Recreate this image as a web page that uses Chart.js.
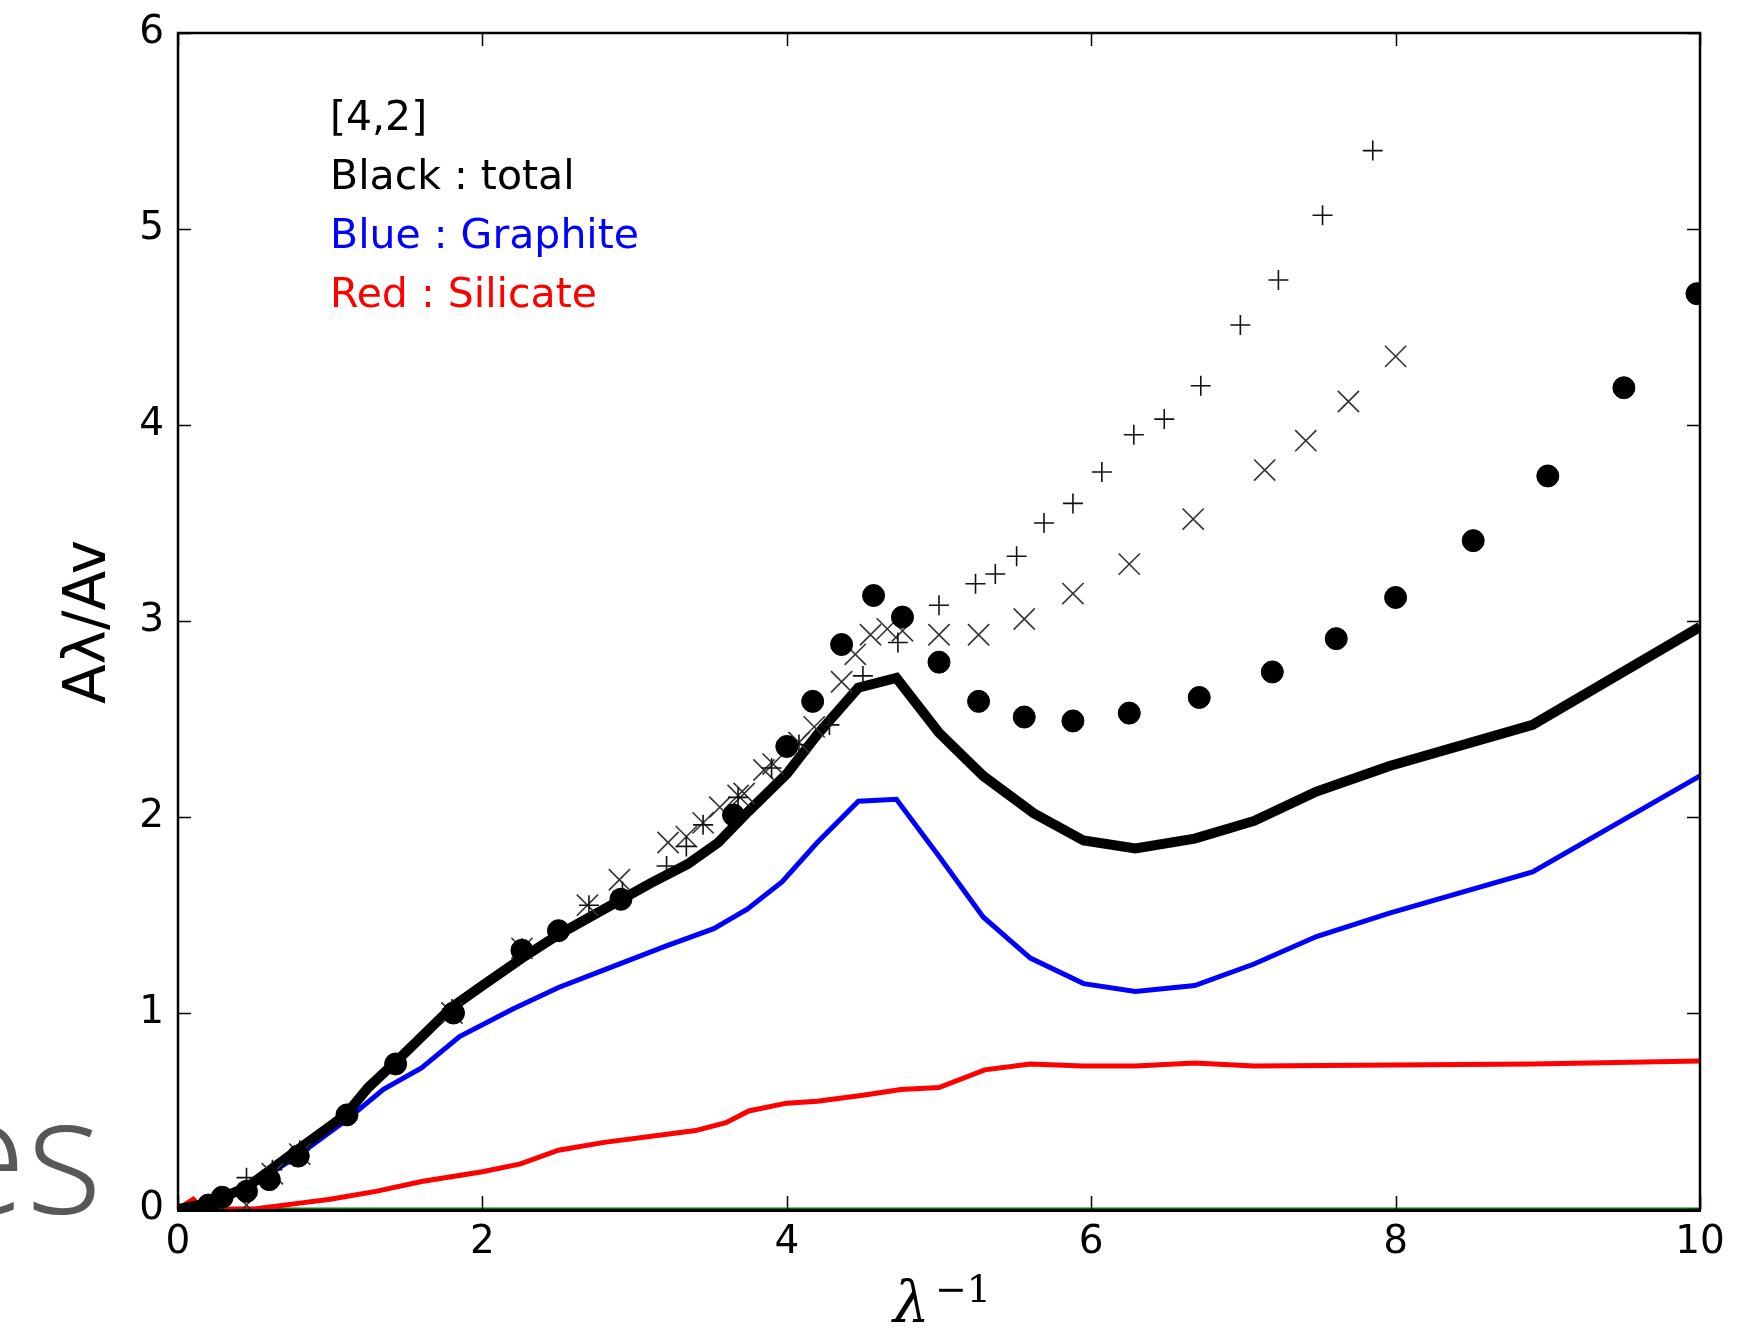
<!DOCTYPE html>
<html>
<head>
<meta charset="utf-8">
<title>Extinction curve [4,2]</title>
<script src="https://cdn.jsdelivr.net/npm/chart.js@4.4.1/dist/chart.umd.min.js"></script>
<style>
  html, body { margin: 0; padding: 0; background: #ffffff; }
  #wrap { position: relative; width: 1742px; height: 1329px; }
  canvas { display: block; }
</style>
</head>
<body>
<div id="wrap"><canvas id="extinctionChart" width="1742" height="1329"></canvas></div>
<script>
/**
 * ================================================================
 * DATA
 * ================================================================
 */

// Ticks
const xTicks = [0, 2, 4, 6, 8, 10];
const yTicks = [0, 1, 2, 3, 4, 5, 6];

// Model: total (black)
const totalX = [0, 0.2, 0.45, 0.8, 1.1, 1.25, 1.47, 1.8, 2.0, 2.26, 2.5, 2.8, 3.1, 3.35, 3.55, 3.75, 4.0, 4.2, 4.47, 4.72, 5.0, 5.29, 5.62, 5.95, 6.29, 6.68, 7.07, 7.48, 7.96, 8.9, 10];
const totalY = [0, 0.03, 0.11, 0.31, 0.48, 0.62, 0.78, 1.03, 1.14, 1.28, 1.4, 1.53, 1.66, 1.76, 1.87, 2.03, 2.22, 2.42, 2.66, 2.71, 2.43, 2.21, 2.02, 1.88, 1.84, 1.89, 1.98, 2.13, 2.26, 2.47, 2.97];

// Model: graphite (blue)
const graphiteX = [0, 0.2, 0.45, 0.8, 1.1, 1.35, 1.6, 1.85, 2.2, 2.5, 2.8, 3.2, 3.52, 3.74, 3.97, 4.2, 4.47, 4.72, 5.0, 5.29, 5.6, 5.95, 6.29, 6.68, 7.07, 7.48, 7.96, 8.9, 10];
const graphiteY = [0, 0.03, 0.1, 0.28, 0.45, 0.61, 0.72, 0.88, 1.02, 1.13, 1.22, 1.34, 1.43, 1.53, 1.67, 1.87, 2.08, 2.09, 1.8, 1.49, 1.28, 1.15, 1.11, 1.14, 1.25, 1.39, 1.51, 1.72, 2.21];

// Model: silicate (red)
const silicateX = [0, 0.1, 0.16, 0.5, 0.8, 1.0, 1.3, 1.6, 2.0, 2.25, 2.5, 2.8, 3.2, 3.4, 3.6, 3.75, 4.0, 4.2, 4.5, 4.75, 5.0, 5.3, 5.6, 5.95, 6.29, 6.68, 7.07, 8.9, 10];
const silicateY = [0, 0.05, 0, 0, 0.03, 0.05, 0.09, 0.14, 0.19, 0.23, 0.3, 0.34, 0.38, 0.4, 0.44, 0.5, 0.54, 0.55, 0.58, 0.61, 0.62, 0.71, 0.74, 0.73, 0.73, 0.745, 0.73, 0.74, 0.755];

// Zero line (green)
const zeroX = [0, 10];
const zeroY = [0, 0];

// Observed curve: filled circles
const dotsX = [0.2, 0.29, 0.45, 0.6, 0.79, 1.11, 1.43, 1.81, 2.26, 2.5, 2.91, 3.65, 4.0, 4.17, 4.36, 4.57, 4.76, 5.0, 5.26, 5.56, 5.88, 6.25, 6.71, 7.19, 7.61, 8.0, 8.51, 9.0, 9.5, 9.98];
const dotsY = [0.02, 0.06, 0.09, 0.15, 0.27, 0.48, 0.74, 1.0, 1.32, 1.42, 1.58, 2.01, 2.36, 2.59, 2.88, 3.13, 3.02, 2.79, 2.59, 2.51, 2.49, 2.53, 2.61, 2.74, 2.91, 3.12, 3.41, 3.74, 4.19, 4.67];

// Observed curve: plus markers
const plusX = [0.45, 0.62, 0.8, 1.8, 2.26, 2.7, 2.92, 3.21, 3.34, 3.45, 3.68, 3.9, 4.08, 4.28, 4.5, 4.73, 5.0, 5.24, 5.37, 5.51, 5.69, 5.88, 6.07, 6.28, 6.48, 6.72, 6.98, 7.23, 7.52, 7.85];
const plusY = [0.16, 0.2, 0.3, 1.02, 1.33, 1.55, 1.62, 1.75, 1.85, 1.96, 2.1, 2.25, 2.37, 2.47, 2.72, 2.89, 3.08, 3.19, 3.24, 3.33, 3.5, 3.6, 3.76, 3.95, 4.03, 4.2, 4.51, 4.74, 5.07, 5.4];

// Observed curve: x markers
const crossX = [0.45, 0.62, 0.8, 1.8, 2.26, 2.69, 2.9, 3.22, 3.34, 3.45, 3.56, 3.68, 3.72, 3.85, 3.91, 4.08, 4.18, 4.36, 4.45, 4.55, 4.66, 4.76, 5.0, 5.26, 5.56, 5.88, 6.25, 6.67, 7.14, 7.41, 7.69, 8.0];
const crossY = [0.02, 0.18, 0.28, 1.0, 1.33, 1.55, 1.68, 1.87, 1.9, 1.97, 2.05, 2.11, 2.12, 2.24, 2.27, 2.38, 2.46, 2.69, 2.83, 2.93, 2.96, 2.95, 2.93, 2.93, 3.01, 3.14, 3.29, 3.52, 3.77, 3.92, 4.12, 4.35];

// Legend-like notes
const noteLines = ['[4,2]', 'Black : total', 'Blue : Graphite', 'Red : Silicate'];
const noteColors = ['#000000', '#000000', '#0000ff', '#ff0000'];

/**
 * ================================================================
 * HELPERS
 * ================================================================
 */

const toPoints = (xs, ys) => xs.map((x, i) => ({ x: x, y: ys[i] }));

const lineSet = (xs, ys, color, width, order) => ({
    data: toPoints(xs, ys),
    showLine: true,
    borderColor: color,
    borderWidth: width,
    pointRadius: 0,
    tension: 0,
    clip: 0,
    order: order
});

const markerSet = (xs, ys, style, radius, fill, stroke, width) => ({
    data: toPoints(xs, ys),
    showLine: false,
    pointStyle: style,
    pointRadius: radius,
    pointBackgroundColor: fill,
    pointBorderColor: stroke,
    pointBorderWidth: width,
    clip: 0,
    order: 1
});

/**
 * ================================================================
 * PLUGIN: frame, inward ticks, notes, axis titles
 * ================================================================
 */

const framePlugin = {
    id: 'frame',

    beforeDraw(chart) {
        // faded slide text left behind the figure
        const ctx = chart.ctx;
        ctx.save();
        ctx.fillStyle = '#585858';
        ctx.font = '300 162px "Open Sans"';
        ctx.textAlign = 'right';
        ctx.textBaseline = 'alphabetic';
        ctx.fillText('es', 102, 1213);
        ctx.restore();
    },

    afterDraw(chart) {
        const { ctx, chartArea: a, scales } = chart;
        const xs = scales.x, ys = scales.y;
        const tick = 13;

        ctx.save();
        ctx.strokeStyle = '#000';
        ctx.lineWidth = 1.5;
        ctx.beginPath();
        xTicks.forEach(v => {
            const px = Math.round(xs.getPixelForValue(v)) + 0.5;
            ctx.moveTo(px, a.bottom); ctx.lineTo(px, a.bottom - tick);
            ctx.moveTo(px, a.top); ctx.lineTo(px, a.top + tick);
        });
        yTicks.forEach(v => {
            const py = Math.round(ys.getPixelForValue(v)) + 0.5;
            ctx.moveTo(a.left, py); ctx.lineTo(a.left + tick, py);
            ctx.moveTo(a.right, py); ctx.lineTo(a.right - tick, py);
        });
        ctx.stroke();

        // spines
        ctx.lineWidth = 2.5;
        ctx.beginPath();
        ctx.moveTo(a.left, a.bottom + 1);
        ctx.lineTo(a.left, a.top);
        ctx.lineTo(a.right, a.top);
        ctx.lineTo(a.right, a.bottom + 1);
        ctx.stroke();
        ctx.lineWidth = 3;
        ctx.beginPath();
        ctx.moveTo(a.left - 1, a.bottom + 1.5);
        ctx.lineTo(a.right + 1, a.bottom + 1.5);
        ctx.stroke();

        // notes
        ctx.font = '41px "DejaVu Sans"';
        ctx.textAlign = 'left';
        ctx.textBaseline = 'alphabetic';
        noteLines.forEach((t, i) => {
            ctx.fillStyle = noteColors[i];
            ctx.fillText(t, a.left + 152, a.top + 97 + 59 * i);
        });

        // y title
        ctx.fillStyle = '#000';
        ctx.save();
        ctx.translate(105, (a.top + a.bottom) / 2 + 1);
        ctx.rotate(-Math.PI / 2);
        ctx.font = '58px "DejaVu Sans"';
        ctx.textAlign = 'center';
        ctx.fillText('A\u03bb/Av', 0, 0);
        ctx.restore();

        // x title
        const cx = (a.left + a.right) / 2;
        ctx.font = 'italic 58px "DejaVu Serif"';
        ctx.textAlign = 'left';
        ctx.fillText('\u03bb', cx - 46, 1322);
        ctx.font = '38px "DejaVu Serif"';
        ctx.fillText('\u22121', cx - 4, 1302);

        ctx.restore();
    }
};

/**
 * ================================================================
 * CHART
 * ================================================================
 */

const tickFont = { family: 'DejaVu Sans', size: 39 };

const chart = new Chart(document.getElementById('extinctionChart'), {
    type: 'scatter',
    data: {
        datasets: [
            markerSet(dotsX, dotsY, 'circle', 11, '#000', '#000', 1),
            markerSet(plusX, plusY, 'cross', 10, '#111', '#111', 1.6),
            markerSet(crossX, crossY, 'crossRot', 15, '#333', '#333', 1.6),
            lineSet(totalX, totalY, '#000000', 10, 2),
            lineSet(graphiteX, graphiteY, '#0000ff', 5, 3),
            lineSet(silicateX, silicateY, '#ff0000', 5, 4),
            lineSet(zeroX, zeroY, '#008000', 3, 5)
        ]
    },
    options: {
        responsive: false,
        animation: false,
        events: [],
        layout: { padding: { top: 33, right: 42, left: 0, bottom: 0 } },
        plugins: {
            legend: { display: false },
            tooltip: { enabled: false }
        },
        scales: {
            x: {
                type: 'linear',
                min: 0,
                max: 10,
                afterBuildTicks: s => { s.ticks = xTicks.map(v => ({ value: v })); },
                afterFit: s => { s.height = 120; s.paddingLeft = 0; s.paddingRight = 0; },
                grid: { display: false, drawTicks: false },
                border: { display: false },
                ticks: { font: tickFont, color: '#000', padding: 10, maxRotation: 0 }
            },
            y: {
                type: 'linear',
                min: 0,
                max: 6,
                afterBuildTicks: s => { s.ticks = yTicks.map(v => ({ value: v })); },
                afterFit: s => { s.width = 178; s.paddingTop = 0; s.paddingBottom = 0; },
                grid: { display: false, drawTicks: false },
                border: { display: false },
                ticks: { font: tickFont, color: '#000', padding: 14 }
            }
        }
    },
    plugins: [framePlugin]
});
</script>
</body>
</html>
